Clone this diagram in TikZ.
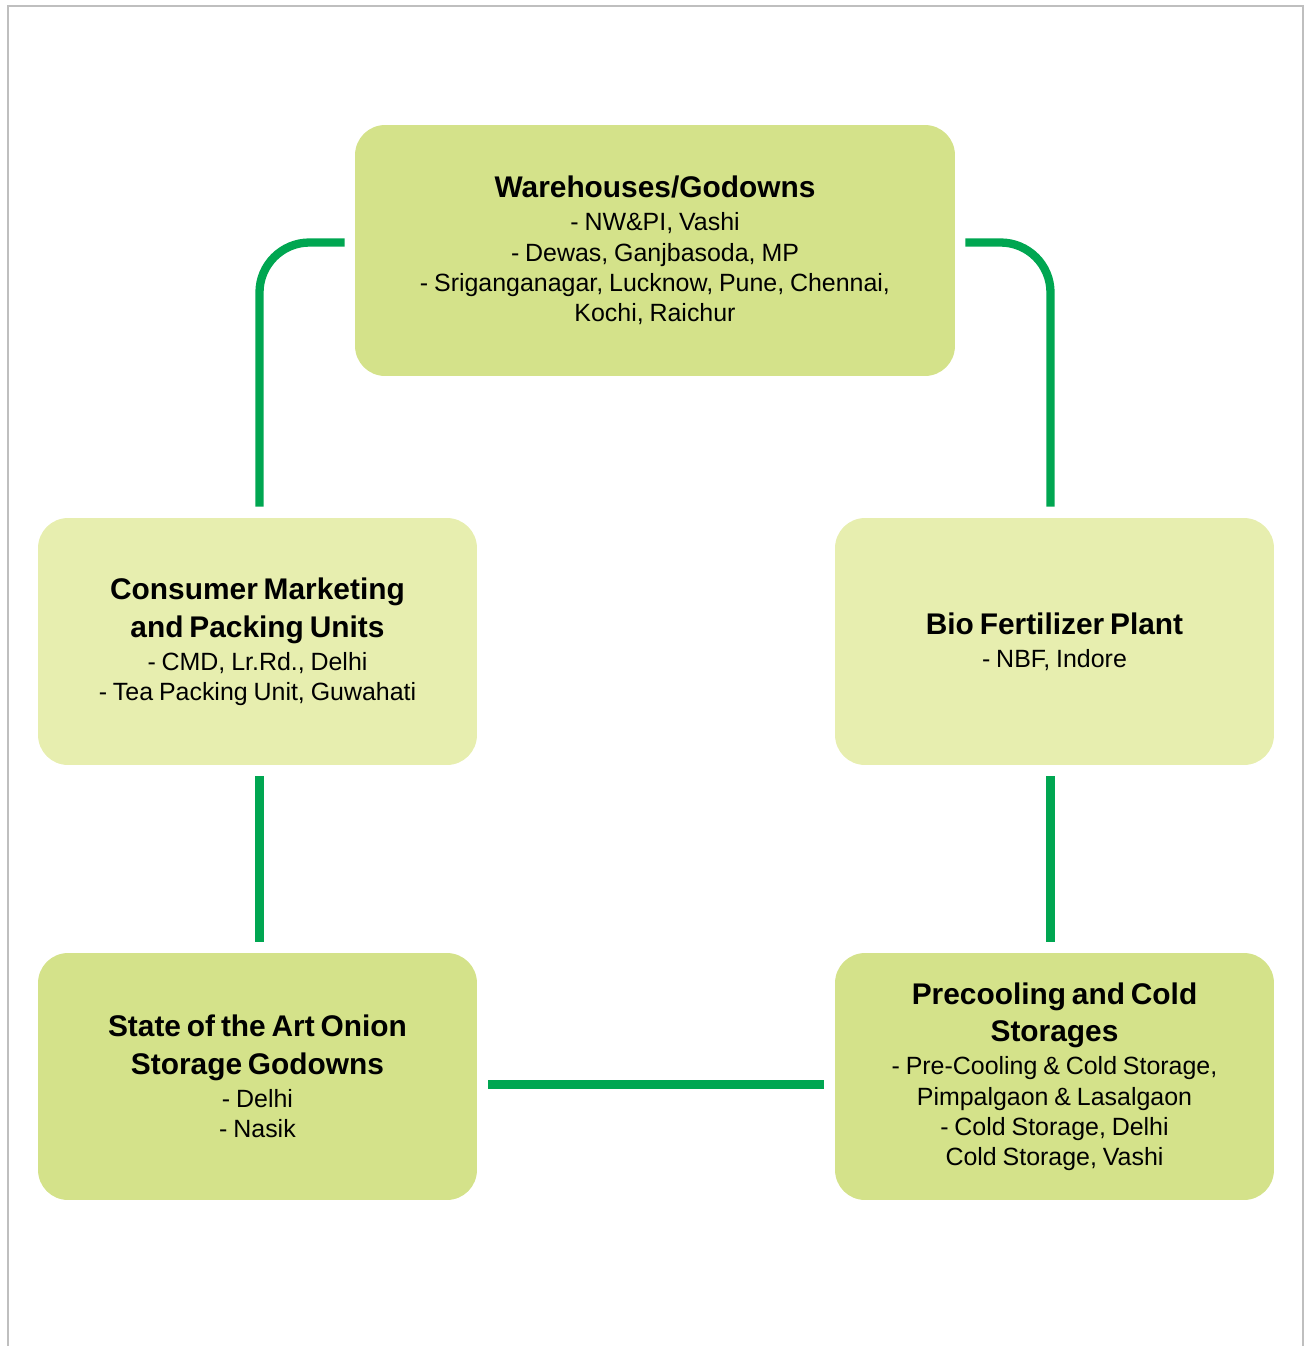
\documentclass[tikz,border=0pt]{standalone}
\usepackage{fontspec}
\setmainfont{Liberation Sans}
\usepackage{tikz}
\usetikzlibrary{positioning,calc}
\definecolor{boxdark}{HTML}{D4E28A}
\definecolor{boxlight}{HTML}{E7EEAF}
\definecolor{linkgreen}{HTML}{00A651}
\definecolor{framegray}{HTML}{BFBFBF}
\newcommand{\sitetitle}{\fontsize{17}{21.5}\selectfont\bfseries}
\newcommand{\sitebody}{\fontsize{14.2}{17.2}\selectfont\vspace*{1.6pt}}

\begin{document}
\begin{tikzpicture}[x=0.02cm,y=-0.02cm,
 site/.style={rounded corners=0.6cm, minimum width=8.78cm, minimum height=4.94cm, text width=8.4cm, align=center, inner sep=0pt},
 link/.style={line width=0.166cm, linkgreen, rounded corners=1cm}]

 \useasboundingbox (0,0) rectangle (1304,1346);
 \draw[framegray, line width=0.04cm] (8,1346) -- (8,6) -- (1303,6) -- (1303,1346);

 \node[site, fill=boxdark, minimum width=12cm, minimum height=5.02cm, text width=11.6cm] (wh) at (655,250.5)
  {{\sitetitle Warehouses/Godowns\par}{\sitebody - NW\&PI, Vashi\\ - Dewas, Ganjbasoda, MP\\ - Sriganganagar, Lucknow, Pune, Chennai,\\ Kochi, Raichur\par}};

 \node[site, fill=boxlight] (cmu) at (257.5,641.5)
  {{\sitetitle Consumer Marketing\\ and Packing Units\par}{\sitebody - CMD, Lr.Rd., Delhi\\ - Tea Packing Unit, Guwahati\par}};
 \node[site, fill=boxlight] (bfp) at (1054.5,641.5)
  {{\sitetitle Bio Fertilizer Plant\par}{\sitebody - NBF, Indore\par}};

 \node[site, fill=boxdark] (osg) at (257.5,1076.5)
  {{\sitetitle State of the Art Onion\\ Storage Godowns\par}{\sitebody - Delhi\\ - Nasik\par}};
 \node[site, fill=boxdark] (pcs) at (1054.5,1076.5)
  {{\sitetitle Precooling and Cold\\ Storages\par}{\sitebody - Pre-Cooling \& Cold Storage,\\ Pimpalgaon \& Lasalgaon\\ - Cold Storage, Delhi\\ Cold Storage, Vashi\par}};

 \draw[link] ($(wh.west)+(-10,-8)$) -| ($(cmu.north)+(2,-11)$);
 \draw[link] ($(wh.east)+(10,-8)$) -| ($(bfp.north)+(-4,-11)$);
 \draw[link] ($(cmu.south)+(2,11)$) -- ($(osg.north)+(2,-11)$);
 \draw[link] ($(bfp.south)+(-4,11)$) -- ($(pcs.north)+(-4,-11)$);
 \draw[link] ($(osg.east)+(11,8)$) -- ($(pcs.west)+(-11,8)$);

\end{tikzpicture}
\end{document}
